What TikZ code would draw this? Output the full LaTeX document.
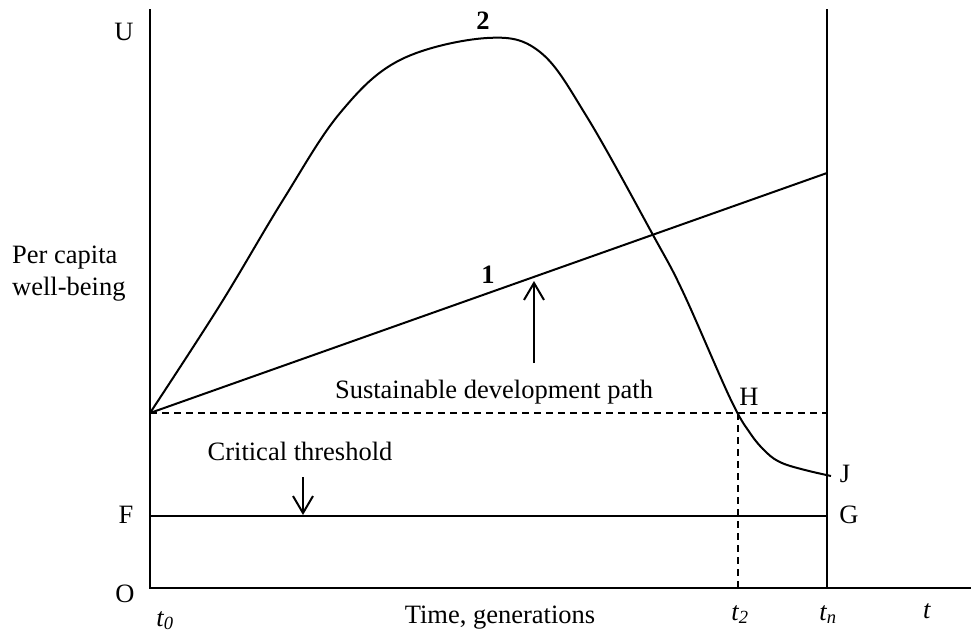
\documentclass[tikz,border=0pt]{standalone}
\usepackage{fontspec}
\setmainfont{Liberation Serif}
\usetikzlibrary{arrows.meta}
\begin{document}
\begin{tikzpicture}[x=1pt,y=-1pt,
  lbl/.style={inner sep=0pt,anchor=base,font=\fontsize{26.5}{32}\selectfont},
  axisline/.style={line width=2.6pt},
  curveline/.style={line width=2pt},
  dashline/.style={line width=2pt,dash pattern=on 7pt off 5pt},
  pointer/.style={line width=2pt,-{Straight Barb[length=17pt,width=20pt,line width=2pt]}}]
\useasboundingbox (0,0) rectangle (971,635);
% coordinates
\coordinate (O) at (150,588);
\coordinate (Utop) at (150,9);
\coordinate (Xend) at (971,588);
\coordinate (Ntop) at (827,9);
\coordinate (Nbot) at (827,588);
\coordinate (A) at (150,413);
\coordinate (B) at (827,173);
\coordinate (Hp) at (738,413);
\coordinate (Dend) at (827,413);
\coordinate (T2) at (738,588);
\coordinate (Fp) at (150,516);
\coordinate (Gp) at (827,516);
\coordinate (UpS) at (534,363);
\coordinate (UpE) at (534,281);
\coordinate (DnS) at (303,477);
\coordinate (DnE) at (303,515);
% axes
\draw[axisline] (Utop) -- (O) -- (Xend);
\draw[axisline] (Ntop) -- (Nbot);
% dashed
\draw[dashline] (A) -- (Dend);
\draw[dashline] (Hp) -- (T2);
% threshold
\draw[curveline] (Fp) -- (Gp);
% path 1
\draw[curveline] (A) -- (B);
% curve 2
\draw[curveline] plot[smooth,tension=0.6] coordinates {(150,413) (220,305) (283,200) (340,113) (400,60) (487,38) (540,52) (587,117) (653,235) (683,292) (730,398) (750,433) (767,453) (782,463) (805,470) (831,476)};
% arrows
\draw[pointer] (UpS) -- (UpE);
\draw[pointer] (DnS) -- (DnE);
% labels
\node[lbl] (lU) at (124,40) {U};
\node[lbl,anchor=base west] (lPer) at (12,263) {Per capita};
\node[lbl,anchor=base west] (lWell) at (12,295) {well-being};
\node[lbl] (lF) at (126,523) {F};
\node[lbl] (lO) at (125,602) {O};
\node[lbl] (lt0) at (165,626) {\textit{t\textsubscript{0}}};
\node[lbl] (lTime) at (500,623) {Time, generations};
\node[lbl] (lt2) at (740,620) {\textit{t\textsubscript{2}}};
\node[lbl] (ltn) at (828,620) {\textit{t\textsubscript{n}}};
\node[lbl] (lt) at (927,618) {\textit{t}};
\node[lbl] (lG) at (849,523) {G};
\node[lbl] (lJ) at (845,482) {J};
\node[lbl] (lH) at (749,405) {H};
\node[lbl] (lSus) at (494,398) {Sustainable development path};
\node[lbl] (lCrit) at (300,460) {Critical threshold};
\node[lbl] (l1) at (488,283) {\textbf{1}};
\node[lbl] (l2) at (483,29) {\textbf{2}};
\end{tikzpicture}
\end{document}
